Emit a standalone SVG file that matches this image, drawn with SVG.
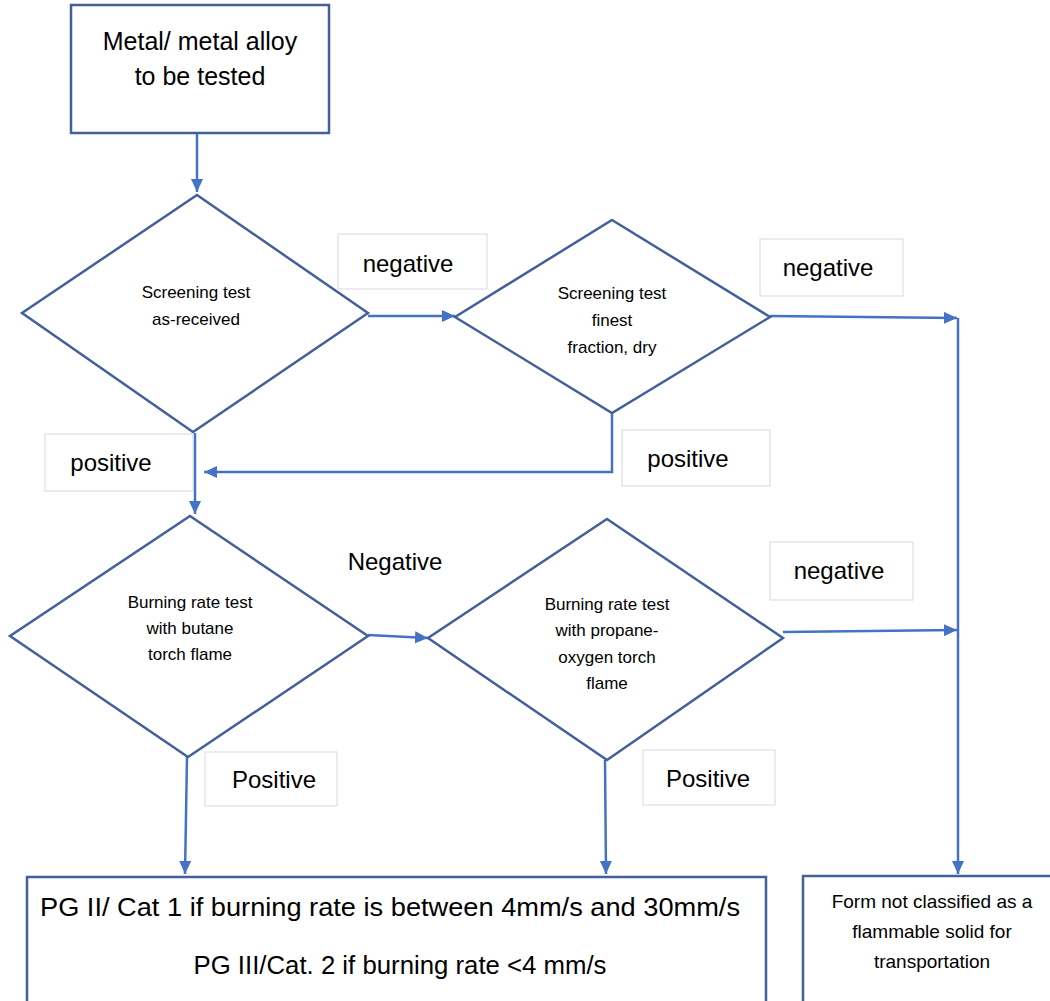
<svg xmlns="http://www.w3.org/2000/svg" width="1050" height="1001" viewBox="0 0 1050 1001">
<style>
.node{fill:#fff;stroke:#42609a;stroke-width:2.5}
.lbl{fill:#fff;stroke:#d9d9d9;stroke-width:1}
.conn{fill:none;stroke:#4472c4;stroke-width:2.5}
text{font-family:"Liberation Sans",Arial,sans-serif;fill:#000;text-anchor:middle}
.big{font-size:25px}
.sm{font-size:17px}
.lt{font-size:24px}
.bt{font-size:25px}
.rt{font-size:19px}
</style>
<defs>
<marker id="ah" markerUnits="userSpaceOnUse" markerWidth="14" markerHeight="14" refX="13" refY="6" orient="auto">
<path d="M0,0 L13,6 L0,12 Z" fill="#4472c4"/>
</marker>
</defs>
<rect width="1050" height="1001" fill="#fff"/>
<g id="connectors">
<path class="conn" d="M197,133 L197,192" marker-end="url(#ah)"/>
<path class="conn" d="M368,316 L455,316" marker-end="url(#ah)"/>
<path class="conn" d="M770,316 L957,318" marker-end="url(#ah)"/>
<path class="conn" d="M958,318 L958,874" marker-end="url(#ah)"/>
<path class="conn" d="M612,413 L612,472 L204,472" marker-end="url(#ah)"/>
<path class="conn" d="M195,433 L195,514" marker-end="url(#ah)"/>
<path class="conn" d="M368,635 L428,638" marker-end="url(#ah)"/>
<path class="conn" d="M783,632 L957,630" marker-end="url(#ah)"/>
<path class="conn" d="M187,757 L185,874" marker-end="url(#ah)"/>
<path class="conn" d="M605,760 L606,874" marker-end="url(#ah)"/>
</g>
<g id="start">
<rect class="node" x="71" y="5" width="258" height="128"/>
<text class="big" x="200" y="50">Metal/ metal alloy</text>
<text class="big" x="200" y="85">to be tested</text>
</g>
<g id="screen1">
<polygon class="node" points="197,195 368,313 193,432 22,313"/>
<text class="sm" x="196" y="298">Screening test</text>
<text class="sm" x="196" y="325">as-received</text>
</g>
<g id="screen2">
<polygon class="node" points="612,220 770,317 612,413 455,317"/>
<text class="sm" x="612" y="299">Screening test</text>
<text class="sm" x="612" y="326">finest</text>
<text class="sm" x="612" y="353">fraction, dry</text>
</g>
<g id="burn1">
<polygon class="node" points="190,516 368,636 188,757 10,636"/>
<text class="sm" x="190" y="608">Burning rate test</text>
<text class="sm" x="190" y="634">with butane</text>
<text class="sm" x="190" y="660">torch flame</text>
</g>
<g id="burn2">
<polygon class="node" points="607,519 783,638 607,760 428,638"/>
<text class="sm" x="607" y="610">Burning rate test</text>
<text class="sm" x="607" y="636">with propane-</text>
<text class="sm" x="607" y="663">oxygen  torch</text>
<text class="sm" x="607" y="689">flame</text>
</g>
<g id="result-pg">
<rect class="node" x="27" y="877" width="739" height="150"/>
<text class="bt" x="390" y="916" textLength="700" lengthAdjust="spacingAndGlyphs">PG II/ Cat 1 if burning rate is between 4mm/s and 30mm/s</text>
<text class="bt" x="400" y="974" textLength="413" lengthAdjust="spacingAndGlyphs">PG III/Cat. 2 if burning rate &lt;4 mm/s</text>
</g>
<g id="result-not">
<rect class="node" x="803" y="876" width="260" height="150"/>
<text class="rt" x="932" y="908">Form not classified as a</text>
<text class="rt" x="932" y="938">flammable solid for</text>
<text class="rt" x="932" y="968">transportation</text>
</g>
<g id="labels">
<rect class="lbl" x="338" y="234" width="149" height="55"/>
<text class="lt" x="408" y="272">negative</text>
<rect class="lbl" x="760" y="239" width="143" height="57"/>
<text class="lt" x="828" y="276">negative</text>
<rect class="lbl" x="45" y="434" width="148" height="57"/>
<text class="lt" x="111" y="471">positive</text>
<rect class="lbl" x="622" y="430" width="148" height="56"/>
<text class="lt" x="688" y="467">positive</text>
<text class="lt" x="395" y="570">Negative</text>
<rect class="lbl" x="770" y="542" width="143" height="58"/>
<text class="lt" x="839" y="579">negative</text>
<rect class="lbl" x="205" y="752" width="132" height="54"/>
<text class="lt" x="274" y="788">Positive</text>
<rect class="lbl" x="643" y="750" width="132" height="55"/>
<text class="lt" x="708" y="787">Positive</text>
</g>
</svg>
